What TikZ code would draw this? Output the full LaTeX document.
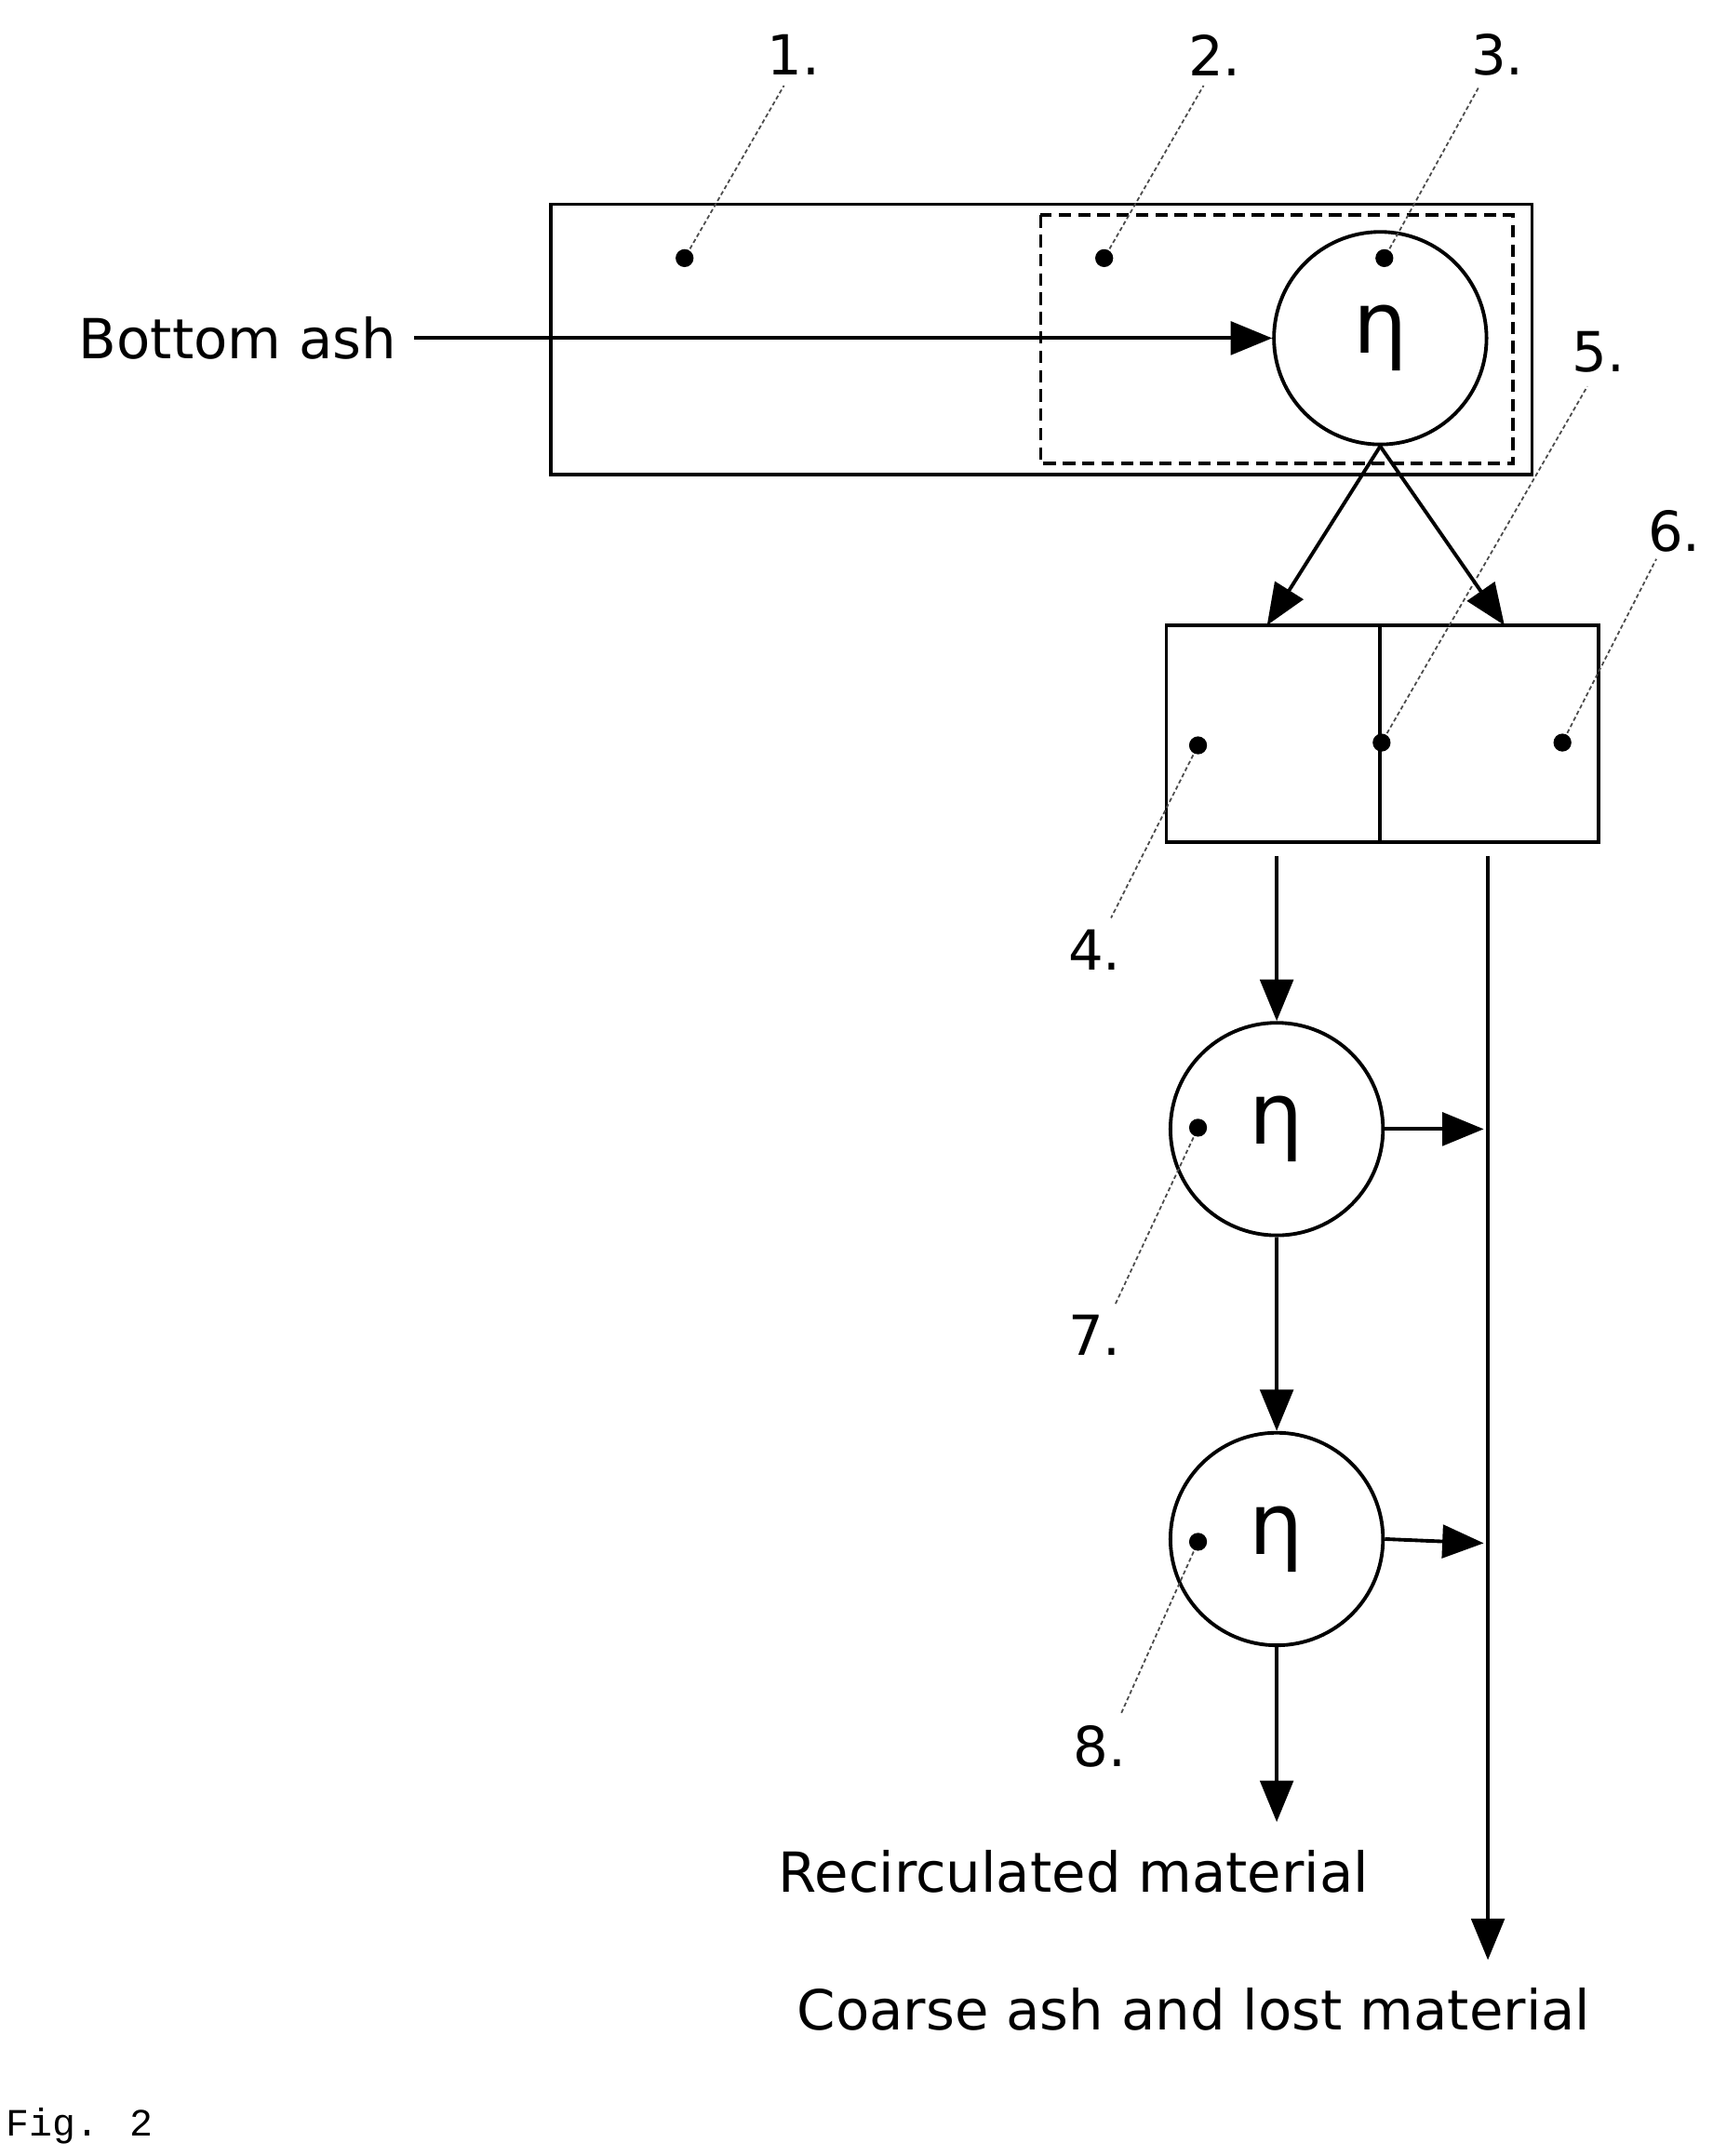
\documentclass[tikz,border=0pt]{standalone}
\usepackage{fontspec}
\setmainfont{DejaVu Sans}
\newfontfamily\monof{Liberation Mono}
\usetikzlibrary{arrows.meta}
\begin{document}
\begin{tikzpicture}[x=1pt,y=-1pt,line width=2.6pt,
  arr/.style={-{Triangle[length=30pt,width=24pt]}},
  lead/.style={dashed,line width=1.2pt,dash pattern=on 3pt off 2pt,gray!60!black},
  dot/.style={circle,fill=black,inner sep=0pt,minimum size=13pt},
  lab/.style={font=\fontsize{40}{44}\selectfont},
  eta/.style={circle,draw,line width=2.6pt,minimum size=154pt,inner sep=0pt,font=\fontsize{62}{66}\selectfont}]
\useasboundingbox (0,0) rectangle (1241,1562);
\draw (399,148) rectangle (1110,344);
\draw[dashed,dash pattern=on 9pt off 5pt] (754,156) rectangle (1096,336);
\node[eta] (c3) at (1000,245) {η};
\node[eta] (c7) at (925,818) {η};
\node[eta] (c8) at (925,1115) {η};
\draw (845,453) rectangle (1158,610);
\draw (1000,453) -- (1000,610);
% dots
\node[dot] (d1) at (496,187) {};
\node[dot] (d2) at (800,187) {};
\node[dot] (d3) at (1003,187) {};
\node[dot] (d4) at (868,540) {};
\node[dot] (d5) at (1001,538) {};
\node[dot] (d6) at (1132,538) {};
\node[dot] (d7) at (868,817) {};
\node[dot] (d8) at (868,1117) {};
% labels
\node[lab] (l1) at (575,40) {1.};
\node[lab] (l2) at (880,40) {2.};
\node[lab] (l3) at (1085,40) {3.};
\node[lab] (l5) at (1158,255) {5.};
\node[lab] (l6) at (1213,385) {6.};
\node[lab] (l4) at (793,688) {4.};
\node[lab] (l7) at (793,967) {7.};
\node[lab] (l8) at (797,1265) {8.};
\draw[lead] (d1) -- (568,62);
\draw[lead] (d2) -- (872,62);
\draw[lead] (d3) -- (1072,62);
\draw[lead] (d5) -- (1150,280);
\draw[lead] (d6) -- (1200,405);
\draw[lead] (d4) -- (805,665);
\draw[lead] (d7) -- (808,945);
\draw[lead] (d8) -- (812,1242);
% texts
\node[lab,anchor=east] (ba) at (292,245) {Bottom ash};
\node[lab] (rm) at (778,1356) {Recirculated material};
\node[lab] (cm) at (865,1456) {Coarse ash and lost material};
\node[anchor=west,font=\monof\fontsize{28}{30}\selectfont] (fig) at (0,1540) {Fig. 2};
% connectors
\coordinate (a0) at (300,245);
\draw[arr] (a0) -- (c3.west);
\coordinate (b1) at (918,453);
\coordinate (b2) at (1090,453);
\draw[arr] (c3.south) -- (b1);
\draw[arr] (c3.south) -- (b2);
\coordinate (s1) at (925,620);
\draw[arr] (s1) -- (c7.north);
\draw[arr] (c7.south) -- (c8.north);
\coordinate (s2) at (925,1320);
\draw[arr] (c8.south) -- (s2);
\coordinate (v0) at (1078,620);
\coordinate (v1) at (1078,1420);
\draw[arr] (v0) -- (v1);
\coordinate (h7) at (1075,818);
\coordinate (h8) at (1075,1118);
\draw[arr] (c7.east) -- (h7);
\draw[arr] (c8.east) -- (h8);
\end{tikzpicture}
\end{document}
